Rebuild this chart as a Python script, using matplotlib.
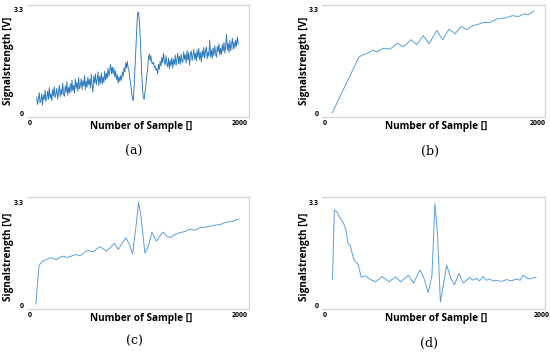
import numpy as np
import matplotlib.pyplot as plt

# (a) noisy raw signal, one reading every 8 samples from 64 to 1984
a_y = [0.50, 0.28, 0.45, 0.66, 0.33, 0.40, 0.62, 0.26, 0.58, 0.44,
       0.74, 0.38, 0.51, 0.70, 0.44, 0.82, 0.48, 0.62, 0.40, 0.76,
       0.54, 0.85, 0.50, 0.62, 0.80, 0.45, 0.68, 0.90, 0.53, 0.77,
       0.59, 0.96, 0.62, 0.54, 0.88, 0.66, 1.01, 0.57, 0.83, 0.64,
       0.94, 0.68, 1.06, 0.72, 0.89, 0.64, 1.09, 0.79, 0.99, 0.70,
       1.14, 0.78, 0.88, 1.10, 0.75, 1.04, 0.87, 1.20, 0.76, 1.03,
       0.83, 1.16, 0.91, 1.08, 0.80, 1.24, 0.89, 0.68, 1.19, 0.97,
       1.26, 0.91, 1.08, 1.32, 0.88, 1.18, 0.96, 1.29, 0.93, 1.16,
       0.98, 1.34, 1.06, 1.28, 1.11, 1.44, 1.18, 1.37, 1.56, 1.26,
       1.48, 1.25, 1.44, 1.16, 1.35, 1.08, 1.23, 0.96, 1.17, 1.01,
       1.20, 1.06, 1.32, 1.18, 1.46, 1.32, 1.62, 1.45, 1.66, 1.42,
       1.34, 1.08, 0.92, 0.66, 0.46, 0.40, 0.85, 1.45, 2.10, 2.65,
       3.18, 3.24, 3.02, 2.60, 1.95, 1.30, 0.78, 0.50, 0.44, 0.70,
       0.88, 1.15, 1.42, 1.74, 1.90, 1.68, 1.84, 1.61, 1.58, 1.64,
       1.46, 1.51, 1.38, 1.43, 1.26, 1.56, 1.40, 1.66, 1.51, 1.78,
       1.62, 1.92, 1.66, 1.54, 1.84, 1.58, 1.48, 1.76, 1.42, 1.70,
       1.51, 1.78, 1.44, 1.72, 1.56, 1.86, 1.53, 1.74, 1.92, 1.58,
       1.82, 1.56, 1.89, 1.68, 1.62, 1.96, 1.72, 1.88, 1.60, 2.00,
       1.70, 1.94, 1.54, 1.90, 1.99, 1.68, 1.86, 2.04, 1.72, 1.92,
       1.66, 2.02, 1.78, 2.08, 1.71, 1.94, 1.64, 2.00, 1.80, 2.10,
       1.76, 1.99, 2.12, 1.74, 1.96, 1.82, 2.34, 1.80, 2.02, 1.75,
       2.09, 1.84, 2.16, 1.90, 1.79, 2.14, 1.96, 2.22, 1.86, 2.08,
       1.88, 2.20, 1.98, 2.26, 1.92, 2.14, 2.52, 2.02, 2.24, 1.94,
       2.32, 2.00, 2.20, 2.40, 2.04, 2.28, 2.08, 2.34, 2.14, 2.44, 2.22]
a_x = np.linspace(64, 1984, len(a_y))

# (b)
b_x = [69, 319, 360, 407, 454, 485, 548, 610, 682, 736, 808, 861, 923, 977,
       1049, 1105, 1165, 1221, 1278, 1331, 1378, 1425, 1487, 1550, 1612,
       1690, 1760, 1815, 1862, 1909, 1966]
b_y = [0.02, 1.80, 1.87, 1.93, 2.01, 1.96, 2.08, 2.05, 2.24, 2.12, 2.35,
       2.19, 2.48, 2.22, 2.65, 2.35, 2.69, 2.54, 2.77, 2.67, 2.79, 2.83,
       2.90, 2.90, 3.01, 3.04, 3.12, 3.09, 3.17, 3.15, 3.27]

# (c)
c_x = [57, 86, 111, 135, 159, 183, 206, 230, 254, 285, 317, 349, 381, 412,
       444, 476, 508, 532, 556, 580, 603, 635, 667, 698, 730, 766, 803, 822,
       841, 878, 914, 946, 978, 1010, 1035, 1060, 1095, 1127, 1162, 1184,
       1206, 1238, 1270, 1300, 1333, 1380, 1429, 1476, 1524, 1570, 1619,
       1680, 1746, 1810, 1873, 1930, 1984]
c_y = [0.04, 1.27, 1.38, 1.43, 1.46, 1.50, 1.52, 1.48, 1.46, 1.53, 1.57,
       1.53, 1.55, 1.60, 1.62, 1.58, 1.66, 1.72, 1.76, 1.72, 1.70, 1.80,
       1.87, 1.80, 1.73, 1.85, 1.98, 1.88, 1.78, 1.98, 2.16, 1.95, 1.65,
       2.53, 3.30, 2.75, 1.66, 1.89, 2.34, 2.18, 2.05, 2.22, 2.34, 2.22,
       2.16, 2.26, 2.32, 2.36, 2.43, 2.40, 2.48, 2.50, 2.55, 2.58, 2.66,
       2.68, 2.75]

# (d)
d_x = [68, 86, 109, 140, 171, 192, 211, 233, 264, 304, 335, 372, 419, 465,
       527, 589, 651, 698, 769, 816, 878, 915, 952, 986, 1014, 1039, 1064,
       1091, 1122, 1163, 1194, 1234, 1277, 1305, 1333, 1364, 1395, 1426,
       1457, 1488, 1519, 1550, 1581, 1628, 1674, 1720, 1767, 1800, 1829,
       1876, 1910, 1947]
d_y = [0.82, 3.04, 2.99, 2.78, 2.62, 2.41, 1.99, 1.89, 1.47, 1.31, 0.89,
       0.94, 0.82, 0.75, 0.92, 0.75, 0.91, 0.75, 0.96, 0.71, 1.13, 0.84,
       0.40, 0.94, 3.25, 2.20, 0.10, 0.63, 1.28, 0.84, 0.65, 1.02, 0.71,
       0.80, 0.89, 0.80, 0.86, 0.78, 0.92, 0.80, 0.84, 0.77, 0.80, 0.76,
       0.82, 0.78, 0.84, 0.80, 0.96, 0.84, 0.87, 0.89]

captions = ["(a)", "(b)", "(c)", "(d)"]
label_font = "Open Sans"


def style(ax, xmax):
    ax.set_xlim(-28, xmax)
    ax.set_ylim(-0.12, 3.46)
    ax.set_xticks([0, 2000], ["0", "2000"])
    ax.set_yticks([0, 3.3], ["0", "3.3"])
    ax.tick_params(length=0, labelsize=5, pad=2.5)
    for t in ax.get_xticklabels() + ax.get_yticklabels():
        t.set_fontweight("bold")
        t.set_family(label_font)
    ax.spines["left"].set_visible(False)
    for s in ("top", "bottom", "right"):
        ax.spines[s].set_color("#d4d4d4")
        ax.spines[s].set_linewidth(0.9)
    ax.set_xlabel("Number of Sample []", fontsize=7.2, fontweight="bold",
                  family=label_font, va="top")
    ax.set_ylabel("Signalstrength [V]", fontsize=7.2, fontweight="bold",
                  family=label_font)


fig = plt.figure(figsize=(5.5, 3.53), dpi=100)

ax_a = fig.add_axes([0.0491, 0.6686, 0.4036, 0.3173])
ax_b = fig.add_axes([0.5855, 0.6686, 0.4055, 0.3173])
ax_c = fig.add_axes([0.0491, 0.1246, 0.4036, 0.3173])
ax_d = fig.add_axes([0.5855, 0.1246, 0.4055, 0.3173])

ax_a.plot(a_x, a_y, color="#2a78bd", lw=0.65)
ax_b.plot(b_x, b_y, color="#5c9fdb", lw=0.7)
ax_c.plot(c_x, c_y, color="#5c9fdb", lw=0.7)
ax_d.plot(d_x, d_y, color="#5c9fdb", lw=0.7)

style(ax_a, 2086)
style(ax_b, 2066)
style(ax_c, 2086)
style(ax_d, 2030)

for ax, xl in ((ax_a, 0.515), (ax_c, 0.515), (ax_b, 0.51), (ax_d, 0.51)):
    ax.xaxis.set_label_coords(xl, -0.035)
ax_a.yaxis.set_label_coords(-0.06, 0.5)
ax_c.yaxis.set_label_coords(-0.06, 0.47)
ax_b.yaxis.set_label_coords(-0.052, 0.5)
ax_d.yaxis.set_label_coords(-0.052, 0.47)

for (x, y), cap in zip([(134, 151), (430, 151), (134, 341), (429, 343)], captions):
    fig.text(x / 550, 1 - y / 353, cap, ha="center", va="center",
             fontsize=9, family="DejaVu Serif")

fig.savefig("out.png", dpi=100)
